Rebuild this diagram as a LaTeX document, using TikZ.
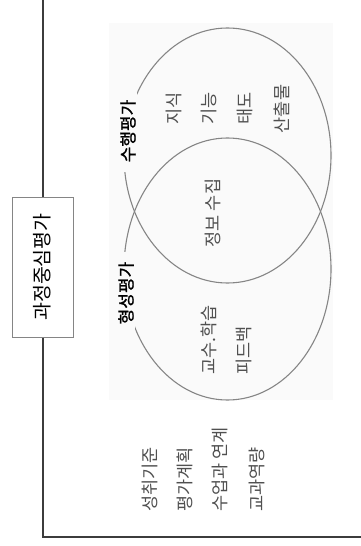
\documentclass[tikz,border=0pt]{standalone}
\usepackage{fontspec}
\setmainfont{Noto Sans CJK KR}
\newfontfamily\krbold[FakeBold=1.2]{Noto Sans CJK KR}
\usetikzlibrary{shapes.geometric}
\definecolor{bgc}{HTML}{FAFAFA}
\definecolor{linec}{HTML}{858585}
\definecolor{txt}{HTML}{505050}
\definecolor{framec}{HTML}{3C3C3C}
\begin{document}
\begin{tikzpicture}[x=1pt,y=1pt,
  circ/.style={ellipse, draw=linec, line width=1.1pt, inner sep=0pt},
  body/.style={rotate=90, inner sep=0pt, text=txt, font=\fontsize{17.5}{17.5}\selectfont},
  tag/.style={rotate=90, fill=bgc, inner ysep=1pt, inner xsep=10pt, text=black, font=\krbold\fontsize{17}{17}\selectfont},
  titlebox/.style={rotate=90, draw=linec, line width=1pt, fill=white, minimum width=140pt, minimum height=61pt, inner sep=0pt, font=\fontsize{19.5}{19.5}\selectfont},
  frameline/.style={draw=framec, line width=2pt}]
\useasboundingbox (0,0) rectangle (361,-546);
\fill[white] (0,0) rectangle (361,-546);
% faint background panel
\fill[bgc] (109,-23) rectangle (333,-400);
% frame line
\coordinate (top) at (42.5,0);
\coordinate (corner) at (42.5,-537);
\coordinate (right) at (361,-537);
\node[titlebox] (title) at (42.5,-267) {과정중심평가};
\draw[frameline] (top) -- (title);
\draw[frameline] (title) -- (corner) -- (right);
% ellipses
\node[circ, minimum width=207pt, minimum height=255pt] (perf) at (227.5,-155.5) {};
\node[circ, minimum width=207pt, minimum height=262pt] (form) at (227.5,-269) {};
% labels on the ellipses
\node[tag] (perflabel) at (128,-131) {수행평가};
\node[tag] (formlabel) at (126,-293) {형성평가};
% upper ellipse contents
\node[body] (t1) at (174,-108) {지식};
\node[body] (t2) at (209,-108) {기능};
\node[body] (t3) at (245,-108) {태도};
\node[body] (t4) at (282,-109) {산출물};
% overlap
\node[body] (mid) at (213,-213) {정보 수집};
% lower ellipse contents
\node[body, anchor=west] (f1) at (209,-375) {교수.학습};
\node[body, anchor=west] (f2) at (244,-375) {피드백};
% bottom list
\node[body, anchor=west] (b1) at (150,-512) {성취기준};
\node[body, anchor=west] (b2) at (185,-512) {평가계획};
\node[body, anchor=west] (b3) at (220,-512) {수업과 연계};
\node[body, anchor=west] (b4) at (257,-512) {교과역량};
\end{tikzpicture}
\end{document}
